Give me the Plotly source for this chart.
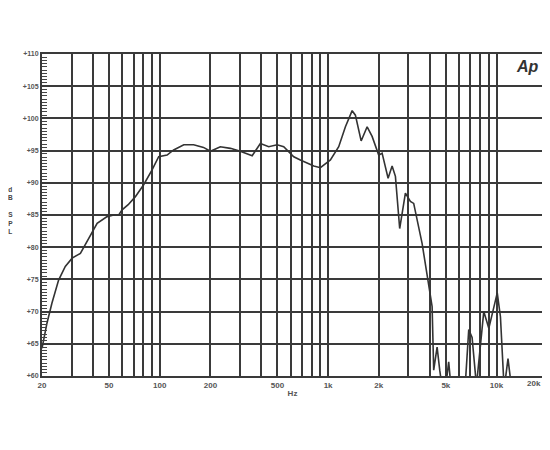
import plotly.graph_objects as go

# Frequency response data (Hz, dB SPL)
freq = [20, 21.4, 22.9, 25.1, 27.5, 30.2, 33.8, 37.9, 42.5, 48.7, 53.3, 57.1, 59.8,
        65, 71.7, 80.3, 90.1, 98.6, 110.6, 121, 139, 159, 182, 200, 229, 263, 301,
        354, 396, 444, 498, 545, 625, 684, 822, 900, 1032, 1156, 1267, 1389, 1452,
        1571, 1705, 1825, 1997, 2092, 2271, 2399, 2510, 2661, 2877, 3080, 3222,
        3614, 3872, 4145, 4236, 4438, 4600, 4800, 5000, 5200, 5400, 6500, 6840,
        7160, 7600, 8400, 9000, 10100, 10550, 11100, 11700, 12300]
spl = [64.3, 68.2, 71.3, 74.9, 77.0, 78.3, 79.05, 81.4, 83.7, 84.75, 85.0, 85.0, 85.8,
       86.6, 87.85, 89.7, 92.0, 94.05, 94.3, 95.1, 95.9, 95.9, 95.5, 94.9, 95.6, 95.35, 94.9,
       94.2, 96.1, 95.6, 95.9, 95.6, 94.05, 93.55, 92.6, 92.35, 93.55, 95.6, 98.7, 101.2, 100.5,
       96.5, 98.7, 97.2, 94.3, 94.6, 90.7, 92.6, 91.0, 82.9, 88.4, 87.1, 86.8,
       80.6, 75.4, 70.8, 60.9, 64.5, 60.9, 57.5, 58.5, 62.2, 57.5, 58.0, 67.2,
       66.0, 58.5, 70.0, 67.4, 72.9, 69.2, 58.0, 62.7, 58.0]

# Axis ticks
x_grid = [20, 30, 40, 50, 60, 70, 80, 90, 100, 200, 300, 400, 500, 600, 700, 800, 900,
          1000, 2000, 3000, 4000, 5000, 6000, 7000, 8000, 9000, 10000]
x_labels = {20: "20", 50: "50", 100: "100", 200: "200", 500: "500", 1000: "1k",
            2000: "2k", 5000: "5k", 10000: "10k"}
x_text = [x_labels.get(v, "") for v in x_grid]
x_end_label = "20k"
y_ticks = [60, 65, 70, 75, 80, 85, 90, 95, 100, 105, 110]
y_text = ["+%d" % v for v in y_ticks]

grid_col = "#3a3a3a"
lab_font = dict(family="Liberation Sans", size=8, color="#555555", weight="bold")

fig = go.Figure()
fig.add_trace(go.Scatter(x=freq, y=spl, mode="lines",
                         line=dict(color="#333333", width=1.6), showlegend=False,
                         hoverinfo="skip"))

fig.update_layout(
    width=535, height=426,
    margin=dict(l=34, r=0, t=46, b=58),
    paper_bgcolor="white", plot_bgcolor="white",
    xaxis=dict(type="log", range=[1.30103, 4.276],
               tickmode="array", tickvals=x_grid, ticktext=x_text,
               showgrid=True, gridcolor=grid_col, gridwidth=2,
               showline=True, linecolor=grid_col, linewidth=2, mirror=True,
               ticks="", tickfont=lab_font, zeroline=False,
               title=dict(text="Hz", font=dict(family="Liberation Sans", size=8,
                                                color="#555555", weight="bold"),
                          standoff=2)),
    yaxis=dict(range=[60, 110], tickmode="array", tickvals=y_ticks, ticktext=y_text,
               showgrid=True, gridcolor=grid_col, gridwidth=2,
               showline=True, linecolor=grid_col, linewidth=2, mirror=False,
               ticks="inside", ticklen=6, tickcolor=grid_col, tickwidth=1,
               minor=dict(dtick=0.5, ticks="inside", ticklen=5, tickcolor="#444444",
                          tickwidth=1, showgrid=False),
               tickfont=dict(family="Liberation Sans", size=7, color="#555555", weight="bold"),
               zeroline=False),
)

# End-of-axis label (20k sits at the cropped right edge in the original)
fig.add_annotation(text=x_end_label, x=1.0, xref="paper", xanchor="right",
                   y=0, yref="paper", yanchor="top", yshift=-1, showarrow=False,
                   font=lab_font)

fig.add_annotation(text="d<br>B<br> <br>S<br>P<br>L", xref="paper", yref="paper",
                   x=-0.062, y=0.515, xanchor="center", yanchor="middle", showarrow=False,
                   font=dict(family="Liberation Sans", size=6.5, color="#444444", weight="bold"),
                   align="center")
fig.add_annotation(text="<i><b>Ap</b></i>", xref="paper", yref="paper",
                   x=0.997, y=0.995, xanchor="right", yanchor="top", showarrow=False,
                   font=dict(family="Liberation Sans", size=16, color="#333333"))

fig.write_html("out.html")
